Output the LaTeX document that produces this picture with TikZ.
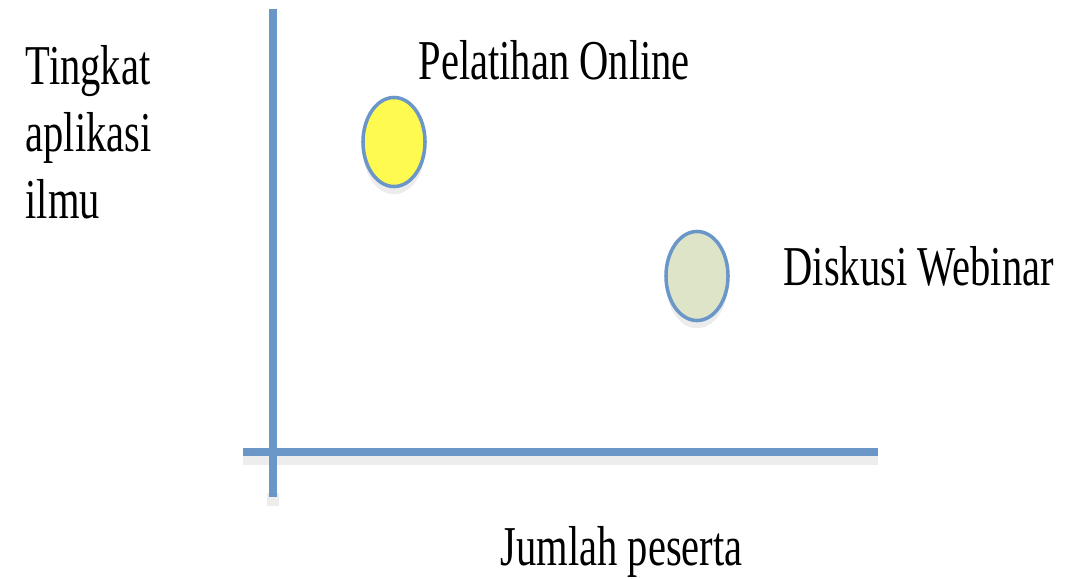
\documentclass[tikz,border=0pt]{standalone}
\usepackage{fontspec}
\setmainfont{Liberation Serif}
\usetikzlibrary{shapes.geometric,shadows}
\definecolor{axisblue}{RGB}{106,150,200}
\definecolor{dotyellow}{RGB}{255,250,80}
\definecolor{dotgreen}{RGB}{221,228,200}
\newcommand{\sq}[1]{\scalebox{0.72}[1]{#1}}

\begin{document}
\begin{tikzpicture}[x=0.01cm, y=-0.01cm,
	lbl/.style={inner sep=0pt, font=\fontsize{16pt}{19pt}\selectfont},
	axis/.style={draw=axisblue, line width=2.2pt},
	axisshade/.style={draw=black, opacity=0.07, line width=3.4pt},
	dot/.style={ellipse, draw=axisblue, line width=1pt, minimum width=0.62cm, minimum height=0.89cm, inner sep=0pt,
		drop shadow={opacity=0.15, shadow xshift=0pt, shadow yshift=-2.2pt}}]
	\useasboundingbox (0,0) rectangle (1082,579);
	\coordinate (ytop) at (273,9);
	\coordinate (ybot) at (273,497);
	\coordinate (xl) at (243,452);
	\coordinate (xr) at (878,452);
	% axes
	\draw[axisshade] ([yshift=-2pt]xl) -- ([yshift=-2pt]xr);
	\draw[axisshade] ([yshift=-2.5pt]ybot) -- ([yshift=1pt]ybot);
	\draw[axis] (xl) -- (xr);
	\draw[axis] (ytop) -- (ybot);
	% points
	\node[dot, fill=dotyellow] (online) at (394,142) {};
	\node[dot, fill=dotgreen] (webinar) at (697,276) {};
	% labels
	\node[lbl, anchor=north west, align=left] (tingkat) at (25,45) {\sq{Tingkat}\\ \sq{aplikasi}\\ \sq{ilmu}};
	\node[lbl, anchor=base west] (pelatihan) at (418,80) {\sq{Pelatihan Online}};
	\node[lbl, anchor=base west] (diskusi) at (783,285) {\sq{Diskusi Webinar}};
	\node[lbl, anchor=base west] (jumlah) at (500,565) {\sq{Jumlah peserta}};
\end{tikzpicture}
\end{document}
